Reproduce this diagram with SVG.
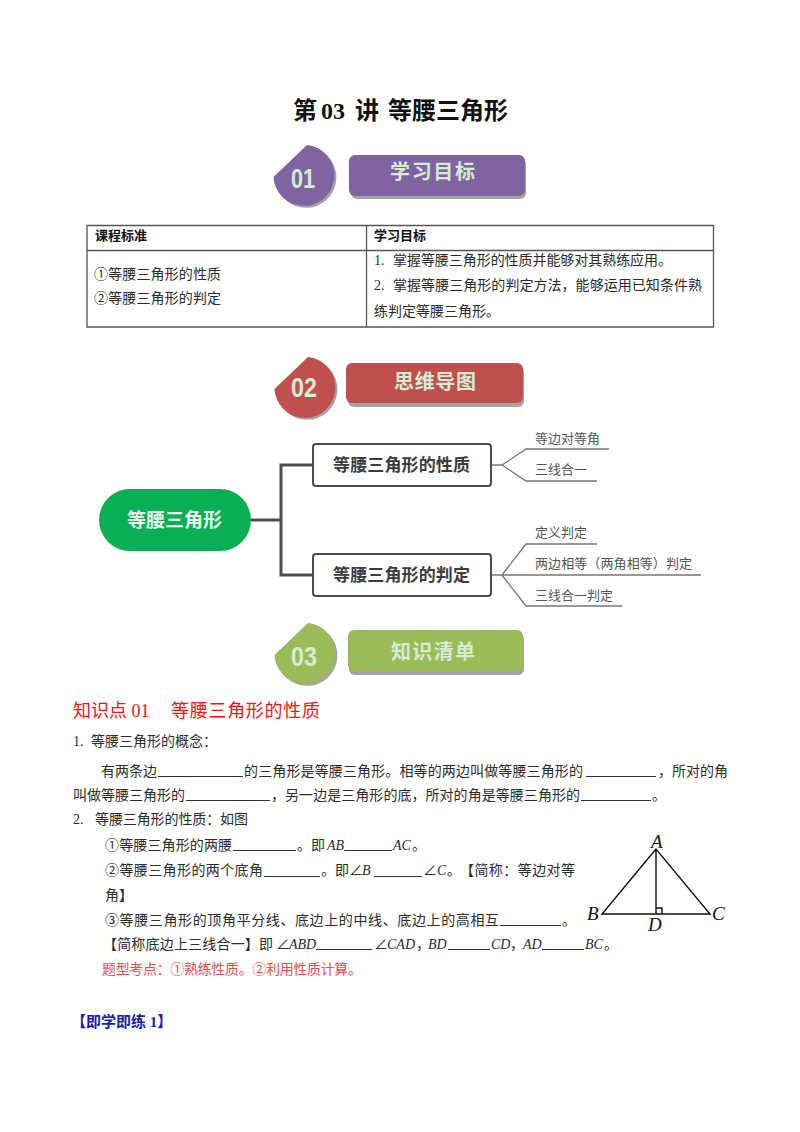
<svg xmlns="http://www.w3.org/2000/svg" width="800" height="1132" viewBox="0 0 800 1132">
<style>
text{font-family:"Liberation Serif","Noto Sans CJK SC",serif;font-size:14px;fill:#2b2b2b}
.c{font-family:"Noto Sans CJK SC",sans-serif}
.i{font-style:italic}
.t{font-size:24px;font-weight:700;fill:#111}
.r{fill:#f51414;font-size:18px}
.p{fill:#f54a4a}
.b{fill:#1c1ca8;font-weight:700;font-size:15px}
.h{font-weight:700;font-size:13px;fill:#111}
.bl{font-family:"Noto Sans CJK SC",sans-serif;font-size:20px;font-weight:700;fill:#d4ecd2}
.num{font-family:"Liberation Sans",sans-serif;font-size:27px;font-weight:700;fill:#d4ecd2}
.s{fill:#a3a3a3}
.mn{font-family:"Noto Sans CJK SC",sans-serif;font-size:17px;font-weight:700;fill:#3c3c3c}
.ml{font-family:"Noto Sans CJK SC",sans-serif;font-size:13px;fill:#555}
.ln{fill:none;stroke:#333;stroke-width:1}
.box{fill:#fff;stroke:#4d4d4d;stroke-width:2}
.main{fill:none;stroke:#4d4d4d;stroke-width:3}
.sub{fill:none;stroke:#777;stroke-width:1.3}
.tl{fill:none;stroke:#555;stroke-width:1.3}
.g{font-size:19px;font-style:italic;fill:#111}
.tri{fill:none;stroke:#111;stroke-width:1.4}
</style>
<defs>
<path id="drop" d="M0 2L33.500 -30A30.500 30.500 0 1 1 0 2Z"/>
</defs>

<text id="title" class="t" y="119"><tspan x="293">第</tspan><tspan x="321">03</tspan><tspan x="355">讲</tspan><tspan x="388">等腰三角形</tspan></text>

<g id="banner-01">
<use href="#drop" x="275.500" y="177" class="s"/>
<use href="#drop" x="273.500" y="175" fill="#8064a2"/>
<text class="num" x="291" y="188" textLength="24" lengthAdjust="spacingAndGlyphs">01</text>
<rect class="s" x="351" y="158" width="175" height="41" rx="6"/>
<rect x="349" y="155" width="176" height="41" rx="6" fill="#8064a2"/>
<text class="bl" x="390" y="179" textLength="85">学习目标</text>
</g>

<g id="objectives-table">
<path class="tl" d="M87 225.500H713.500V327H87ZM87 250.500H713.500M366.500 225V327"/>
<text class="h" x="95" y="240">课程标准</text>
<text class="h" x="374" y="240">学习目标</text>
<text class="c" x="94" y="279" textLength="127">①等腰三角形的性质</text>
<text class="c" x="94" y="303" textLength="127">②等腰三角形的判定</text>
<text x="374" y="265">1.</text>
<text x="393" y="265" textLength="279">掌握等腰三角形的性质并能够对其熟练应用。</text>
<text x="374" y="290">2.</text>
<text x="393" y="290" textLength="309">掌握等腰三角形的判定方法，能够运用已知条件熟</text>
<text x="374" y="316" textLength="126">练判定等腰三角形。</text>
</g>

<g id="banner-02">
<use href="#drop" x="276.500" y="389" class="s"/>
<use href="#drop" x="274.500" y="387" fill="#c0504d"/>
<text class="num" x="291" y="397" textLength="26" lengthAdjust="spacingAndGlyphs">02</text>
<rect class="s" x="348" y="366" width="176" height="41" rx="6"/>
<rect x="346" y="363" width="177" height="40" rx="6" fill="#c0504d"/>
<text class="bl" x="394" y="389" textLength="82">思维导图</text>
</g>

<g id="connectors">
<path class="main" d="M251 520H281M313 465H281V575H313"/>
<path class="sub" d="M491 465H502L526 449H609M502 465L526 481H597M491 575H502L526 544H597M502 575H701M502 575L526 606H622"/>
</g>

<g id="node-root">
<rect x="99" y="489" width="152" height="62" rx="31" fill="#0aae55"/>
<text x="127" y="527" style="font-family:'Noto Sans CJK SC',sans-serif;font-size:19px;font-weight:700;fill:#e8f7ee" textLength="95">等腰三角形</text>
</g>
<g id="node-properties">
<rect class="box" x="313" y="444" width="178" height="42" rx="3"/>
<text class="mn" x="333" y="471" textLength="137">等腰三角形的性质</text>
</g>
<g id="node-criteria">
<rect class="box" x="313" y="554" width="178" height="42" rx="3"/>
<text class="mn" x="333" y="581" textLength="137">等腰三角形的判定</text>
</g>
<g id="leaf-1"><text class="ml" x="535" y="443" textLength="65">等边对等角</text></g>
<g id="leaf-2"><text class="ml" x="535" y="474" textLength="52">三线合一</text></g>
<g id="leaf-3"><text class="ml" x="535" y="537" textLength="52">定义判定</text></g>
<g id="leaf-4"><text class="ml" x="535" y="568" textLength="157">两边相等（两角相等）判定</text></g>
<g id="leaf-5"><text class="ml" x="535" y="600" textLength="78">三线合一判定</text></g>

<g id="banner-03">
<use href="#drop" x="276.500" y="655" class="s"/>
<use href="#drop" x="274.500" y="653" fill="#9bbb59"/>
<text class="num" x="291" y="666" textLength="26" lengthAdjust="spacingAndGlyphs">03</text>
<rect class="s" x="349" y="633" width="175" height="42" rx="6"/>
<rect x="348" y="630" width="175" height="41" rx="6" fill="#9bbb59"/>
<text class="bl" x="391" y="659" textLength="84">知识清单</text>
</g>

<g id="content">
<text class="r" x="73" y="717">知识点 01</text>
<text class="r" x="171" y="717" textLength="149">等腰三角形的性质</text>
<text x="73" y="746">1.</text>
<text x="91" y="746" textLength="126">等腰三角形的概念：</text>
<text x="101" y="776" textLength="56">有两条边</text>
<text x="244" y="776" textLength="339">的三角形是等腰三角形。相等的两边叫做等腰三角形的</text>
<text x="658" y="776" textLength="70">，所对的角</text>
<text x="73" y="800" textLength="112">叫做等腰三角形的</text>
<text x="271" y="800" textLength="309">，另一边是三角形的底，所对的角是等腰三角形的</text>
<text x="652" y="800">。</text>
<text x="73" y="824">2.</text>
<text x="95" y="824" textLength="153">等腰三角形的性质：如图</text>
<text class="c" x="105" y="850" textLength="127">①等腰三角形的两腰</text>
<text x="297" y="850">。即</text>
<text class="i" x="327" y="850">AB</text>
<text class="i" x="393" y="850">AC</text>
<text x="412" y="850">。</text>
<text class="c" x="105" y="875" textLength="158">②等腰三角形的两个底角</text>
<text x="321" y="875">。即∠</text>
<text class="i" x="362" y="875">B</text>
<text x="423" y="875">∠</text>
<text class="i" x="437" y="875">C</text>
<text x="447" y="875">。</text>
<text x="460" y="875" textLength="115">【简称：等边对等</text>
<text x="105" y="900">角】</text>
<text class="c" x="105" y="925" textLength="394">③等腰三角形的顶角平分线、底边上的中线、底边上的高相互</text>
<text x="562" y="925">。</text>
<text x="103" y="949" textLength="170">【简称底边上三线合一】即</text>
<text x="276" y="949">∠</text>
<text class="i" x="289" y="949">ABD</text>
<text x="374" y="949">∠</text>
<text class="i" x="387" y="949">CAD</text>
<text x="416" y="949">，</text>
<text class="i" x="428" y="949">BD</text>
<text class="i" x="491" y="949">CD</text>
<text x="510" y="949">，</text>
<text class="i" x="523" y="949">AD</text>
<text class="i" x="585" y="949">BC</text>
<text x="604" y="949">。</text>
<text class="p c" x="102" y="974" textLength="260">题型考点：①熟练性质。②利用性质计算。</text>
<text class="b" x="71" y="1027">【即学即练 1】</text>
<path class="ln" d="M158 776.500H243M586 776.500H656M186 800.500H270M581 800.500H651M233 850.500H296M344 850.500H392M264 876.500H320M374 876.500H422M500 925.500H561M316 949.500H372M448 949.500H490M542 949.500H584"/>
</g>

<g id="triangle-figure">
<path class="tri" d="M656 849L602 914H710ZM656 849V914M656 908H662V914"/>
<text class="g" x="651" y="848">A</text>
<text class="g" x="587" y="920">B</text>
<text class="g" x="712" y="920">C</text>
<text class="g" x="648" y="931">D</text>
</g>
</svg>
